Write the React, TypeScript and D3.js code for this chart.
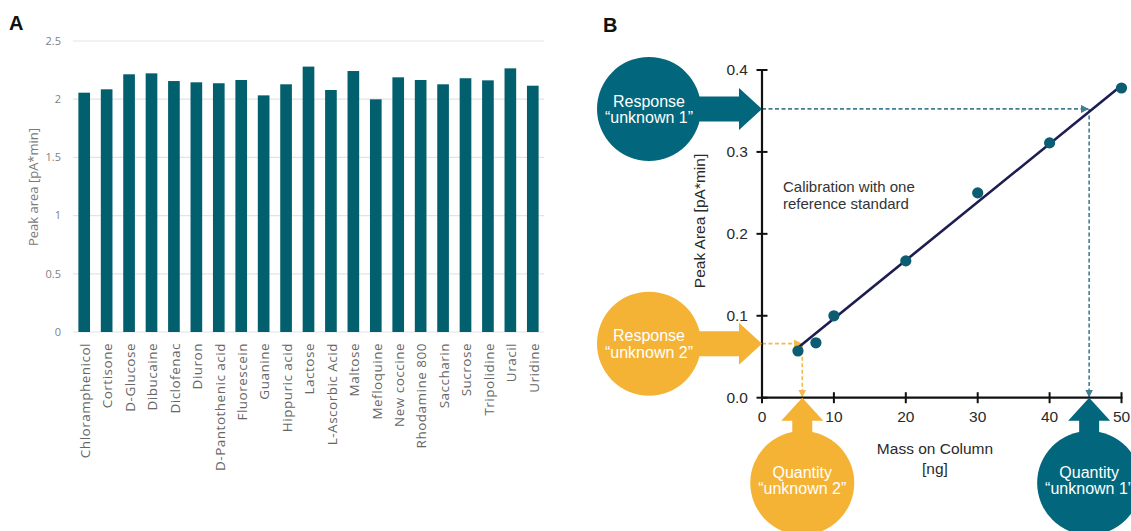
import React from "react";
import * as d3 from "d3";

// ---------- Panel A data ----------
const categories = [
  "Chloramphenicol", "Cortisone", "D-Glucose", "Dibucaine", "Diclofenac", "Diuron",
  "D-Pantothenic acid", "Fluorescein", "Guanine", "Hippuric acid", "Lactose",
  "L-Ascorbic Acid", "Maltose", "Mefloquine", "New coccine", "Rhodamine 800",
  "Saccharin", "Sucrose", "Tripolidine", "Uracil", "Uridine",
];
const peakAreas = [
  2.056, 2.085, 2.214, 2.222, 2.156, 2.145, 2.137, 2.165, 2.033, 2.128, 2.28,
  2.079, 2.242, 1.999, 2.188, 2.165, 2.128, 2.18, 2.162, 2.265, 2.116,
];
const yTicksA = [0, 0.5, 1, 1.5, 2, 2.5];
const yTickLabelsA = ["0", "0.5", "1", "1.5", "2", "2.5"];

// ---------- Panel B data ----------
const massOnColumn = [5, 7.5, 10, 20, 30, 40, 50];
const peakAreaB = [0.057, 0.067, 0.1, 0.167, 0.25, 0.311, 0.378];
const fitLineMass = [5, 50];
const fitLineArea = [0.061, 0.381];
const xTicksB = [0, 10, 20, 30, 40, 50];
const yTicksB = [0, 0.1, 0.2, 0.3, 0.4];
const yTickLabelsB = ["0.0", "0.1", "0.2", "0.3", "0.4"];
const unknownMass = [45.5, 5.6];
const unknownArea = [0.3525, 0.066];
const unknownNames = ["“unknown 1”", "“unknown 2”"];

const TEAL = "#02677c";
const BAR = "#025f6d";
const ORANGE = "#f5b335";
const unknownColors = [TEAL, ORANGE];
const dashColors = ["#3f7f91", "#f4b94c"];

const SANS_A = "'Open Sans', 'Noto Sans', sans-serif";
const SANS_B = "'Liberation Sans', Arial, sans-serif";

export default function App() {
  // Panel A scales
  const xA = d3.scaleBand<string>().domain(categories).range([73, 544]).paddingInner(0.48).paddingOuter(0.24);
  const yA = d3.scaleLinear().domain([0, 2.5]).range([332, 41]);

  // Panel B scales
  const xB = d3.scaleLinear().domain([0, 50]).range([762, 1121.5]);
  const yB = d3.scaleLinear().domain([0, 0.4]).range([397.7, 70]);

  const fitPath = d3.line<number>()
    .x((d) => xB(d))
    .y((_, i) => yB(fitLineArea[i]))(fitLineMass) || "";

  const R = 52;
  const respCx = 649;
  const quantCy = 483;

  const hArrow = (tipX: number, y: number, fromX: number) => {
    const hb = tipX - 23;
    return `M${fromX},${y - 12.5}L${hb},${y - 12.5}L${hb},${y - 21}L${tipX},${y}L${hb},${y + 21}L${hb},${y + 12.5}L${fromX},${y + 12.5}Z`;
  };
  const vArrow = (x: number, tipY: number, fromY: number) => {
    const hb = tipY + 23;
    return `M${x - 10},${fromY}L${x - 10},${hb}L${x - 21},${hb}L${x},${tipY}L${x + 21},${hb}L${x + 10},${hb}L${x + 10},${fromY}Z`;
  };

  return (
    <svg width={1131} height={531} style={{ position: "absolute", left: 0, top: 0, background: "#fff" }}>
      <defs>
        {dashColors.map((c, i) => (
          <marker key={i} id={`ah${i}`} viewBox="0 0 10 10" refX="9" refY="5" markerWidth="5" markerHeight="5" orient="auto">
            <path d="M0,0L10,5L0,10Z" fill={c} />
          </marker>
        ))}
      </defs>

      {/* ---------------- Panel A ---------------- */}
      <text x={9} y={30} fontFamily={SANS_B} fontWeight="bold" fontSize={20} fill="#111">A</text>
      {yTicksA.map((t, i) => (
        <g key={t}>
          <line x1={73} x2={544} y1={yA(t)} y2={yA(t)} stroke="#e3e3e3" strokeWidth={1.2} />
          <text x={61} y={yA(t)} dy="0.35em" textAnchor="end" fontFamily={SANS_A} fontSize={11} fill="#7f7f7f">
            {yTickLabelsA[i]}
          </text>
        </g>
      ))}
      <text transform={`translate(33,${187}) rotate(-90)`} textAnchor="middle" dy="0.35em" fontFamily={SANS_A} fontSize={13} fill="#7a7a7a">
        Peak area [pA*min]
      </text>
      {categories.map((c, i) => (
        <rect key={c} x={xA(c)} y={yA(peakAreas[i])} width={xA.bandwidth()} height={yA(0) - yA(peakAreas[i])} fill={BAR} />
      ))}
      {categories.map((c) => (
        <text key={c} transform={`translate(${(xA(c) || 0) + xA.bandwidth() / 2 + 1},343) rotate(-90)`} textAnchor="end" dy="0.35em"
          fontFamily={SANS_A} fontSize={13.5} fill="#666" letterSpacing={0.5}>
          {c}
        </text>
      ))}

      {/* ---------------- Panel B ---------------- */}
      <text x={603} y={32} fontFamily={SANS_B} fontWeight="bold" fontSize={20} fill="#111">B</text>

      {/* dashed guide lines */}
      {unknownMass.map((m, i) => (
        <g key={i} stroke={dashColors[i]} strokeWidth={1.6} strokeDasharray="4 2.5" fill="none">
          <line x1={xB(0)} y1={yB(unknownArea[i])} x2={xB(m) - 1} y2={yB(unknownArea[i])} markerEnd={`url(#ah${i})`} />
          <line x1={xB(m)} y1={yB(unknownArea[i])} x2={xB(m)} y2={yB(0) - 1} markerEnd={`url(#ah${i})`} />
        </g>
      ))}

      {/* fit line & points */}
      <path d={fitPath} stroke="#1d1d52" strokeWidth={2.6} fill="none" />
      {massOnColumn.map((m, i) => (
        <circle key={m} cx={xB(m)} cy={yB(peakAreaB[i])} r={5.6} fill="#0c5c72" />
      ))}

      {/* axes */}
      <line x1={xB(0)} x2={xB(0)} y1={yB(0.4) - 1} y2={yB(0) + 1} stroke="#111" strokeWidth={2.2} />
      <line x1={xB(0) - 1} x2={xB(50) + 1} y1={yB(0)} y2={yB(0)} stroke="#111" strokeWidth={2.2} />
      {yTicksB.map((t, i) => (
        <g key={t}>
          <line x1={xB(0) - 5.5} x2={xB(0) + 5.5} y1={yB(t)} y2={yB(t)} stroke="#111" strokeWidth={2} />
          <text x={748} y={yB(t)} dy="0.35em" textAnchor="end" fontFamily={SANS_B} fontSize={15.5} fill="#2a2a2a">
            {yTickLabelsB[i]}
          </text>
        </g>
      ))}
      {xTicksB.map((t) => (
        <g key={t}>
          <line x1={xB(t)} x2={xB(t)} y1={yB(0) - 5.5} y2={yB(0) + 5.5} stroke="#111" strokeWidth={2} />
          <text x={xB(t)} y={417} dy="0.35em" textAnchor="middle" fontFamily={SANS_B} fontSize={15.5} fill="#2a2a2a">
            {t}
          </text>
        </g>
      ))}
      <text transform="translate(700,221) rotate(-90)" textAnchor="middle" dy="0.35em" fontFamily={SANS_B} fontSize={15.5} fill="#2a2a2a">
        Peak Area [pA*min]
      </text>
      <text x={935} y={449} dy="0.35em" textAnchor="middle" fontFamily={SANS_B} fontSize={15.5} fill="#2a2a2a">Mass on Column</text>
      <text x={935} y={469} dy="0.35em" textAnchor="middle" fontFamily={SANS_B} fontSize={15.5} fill="#2a2a2a">[ng]</text>

      <text x={783} y={187} dy="0.35em" fontFamily={SANS_B} fontSize={15} fill="#333">Calibration with one</text>
      <text x={783} y={204} dy="0.35em" fontFamily={SANS_B} fontSize={15} fill="#333">reference standard</text>

      {/* callouts: response (horizontal) */}
      {unknownArea.map((a, i) => {
        const cy = yB(a);
        return (
          <g key={`r${i}`}>
            <circle cx={respCx} cy={cy} r={R} fill={unknownColors[i]} />
            <path d={hArrow(xB(0), cy, respCx)} fill={unknownColors[i]} />
            <text x={respCx} y={cy - 8} dy="0.35em" textAnchor="middle" fontFamily={SANS_B} fontSize={16} fill="#fff">Response</text>
            <text x={respCx} y={cy + 8.5} dy="0.35em" textAnchor="middle" fontFamily={SANS_B} fontSize={16} fill="#fff">{unknownNames[i]}</text>
          </g>
        );
      })}
      {/* callouts: quantity (vertical) */}
      {unknownMass.map((m, i) => {
        const cx = xB(m);
        return (
          <g key={`q${i}`}>
            <circle cx={cx} cy={quantCy} r={R} fill={unknownColors[i]} />
            <path d={vArrow(cx, yB(0), quantCy)} fill={unknownColors[i]} />
            <text x={cx} y={quantCy - 11} dy="0.35em" textAnchor="middle" fontFamily={SANS_B} fontSize={16} fill="#fff">Quantity</text>
            <text x={cx} y={quantCy + 5.5} dy="0.35em" textAnchor="middle" fontFamily={SANS_B} fontSize={16} fill="#fff">{unknownNames[i]}</text>
          </g>
        );
      })}
    </svg>
  );
}
